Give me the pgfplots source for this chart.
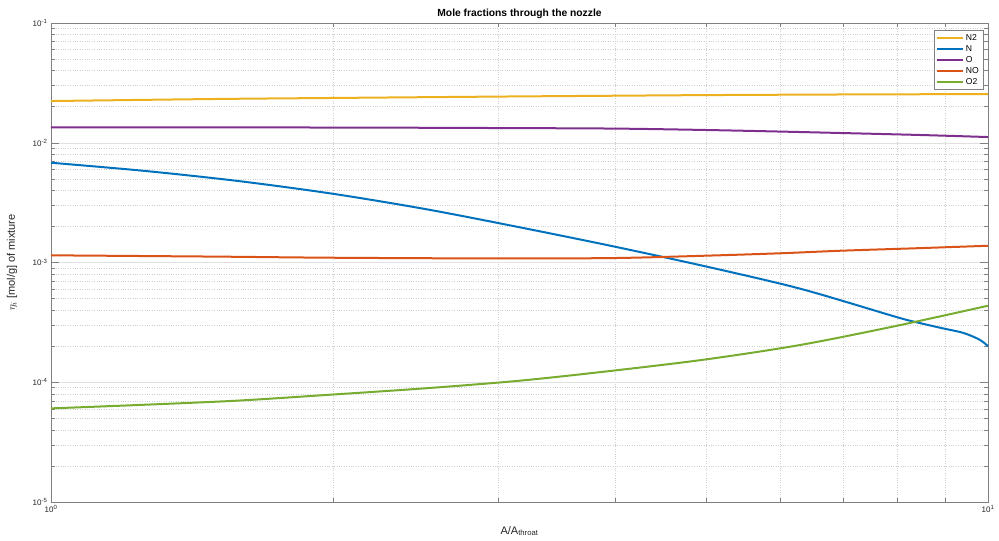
\documentclass[border=0pt]{standalone}
\usepackage{fontspec}
\setmainfont{Liberation Sans}
\usepackage{pgfplots}
\pgfplotsset{compat=1.18}

\definecolor{mlblue}{rgb}{0,0.447,0.741}
\definecolor{mlred}{rgb}{0.85,0.325,0.098}
\definecolor{mlyellow}{rgb}{0.929,0.694,0.125}
\definecolor{mlpurple}{rgb}{0.494,0.184,0.556}
\definecolor{mlgreen}{rgb}{0.466,0.674,0.188}

\begin{document}
\begin{tikzpicture}
\begin{axis}[
  scale only axis, width=937pt, height=479pt,
  xmode=log, ymode=log,
  xmin=1, xmax=10, ymin=1e-5, ymax=1e-1,
  axis line style={black!50, line width=0.5pt},
  tick align=inside,
  major tick length=8pt, minor tick length=4.5pt,
  tick style={black!50, line width=0.5pt},
  xtick={1,10},
  xticklabels={10\textsuperscript{0},10\textsuperscript{1}},
  ytick={1e-5,1e-4,1e-3,1e-2,1e-1},
  yticklabels={10\textsuperscript{-5},10\textsuperscript{-4},10\textsuperscript{-3},10\textsuperscript{-2},10\textsuperscript{-1}},
  ticklabel style={font=\fontsize{8}{9}\selectfont, text=black!85},
  grid=both,
  major grid style={black!12, line width=0.5pt},
  minor grid style={black!19, dotted, line width=0.5pt},
  every axis title shift=0pt,
  title={\textbf{Mole fractions through the nozzle}},
  title style={font=\fontsize{10.3}{12}\selectfont, at={(axis description cs:0.5,1.0188)}, anchor=center},
  xlabel={A/A\textsubscript{throat}},
  ylabel={$\eta_i$ [mol/g] of mixture},
  xlabel style={font=\fontsize{11}{12}\selectfont, text=black!85, at={(axis description cs:0.5,-0.0605)}, anchor=center},
  ylabel style={font=\fontsize{11}{12}\selectfont, text=black!85, at={(axis description cs:-0.0416,0.5)}, anchor=center},
  legend style={at={(1,1)}, anchor=north east, xshift=-5pt, yshift=-7pt,
    font=\fontsize{8.6}{10}\selectfont, draw=black!50, line width=0.5pt,
    inner sep=2pt, row sep=-0.5pt},
  legend cell align=left,
  legend image code/.code={\draw[#1] plot coordinates {(0pt,0pt) (13pt,0pt) (26pt,0pt)};},
  every axis plot/.append style={line width=2pt},
]
% N2
\addplot[mlyellow, smooth] coordinates {(1,0.0223) (1.5,0.0232) (2,0.02366) (3,0.0243) (4,0.0247) (5,0.0250) (7,0.0253) (10,0.0255)};
\addlegendentry{N2}
% N
\addplot[mlblue, smooth] coordinates {(1,6.81e-3) (1.259,5.82e-3) (1.585,4.79e-3) (1.995,3.76e-3) (2.512,2.79e-3) (3.162,1.97e-3) (3.981,1.365e-3) (5.012,9.23e-4) (6.310,6.03e-4) (7.943,3.55e-4) (8.318,3.22e-4) (8.913,2.84e-4) (9.333,2.63e-4) (9.550,2.48e-4) (9.772,2.29e-4) (9.886,2.16e-4) (10,2.0e-4)};
\addlegendentry{N}
% O
\addplot[mlpurple, smooth] coordinates {(1,0.01346) (2,0.0134) (3,0.01327) (4,0.01313) (5,0.01278) (6,0.0124) (7,0.01205) (8.5,0.0116) (10,0.01116)};
\addlegendentry{O}
% NO
\addplot[mlred, smooth] coordinates {(1,1.148e-3) (1.5,1.12e-3) (2,1.096e-3) (3,1.081e-3) (4,1.09e-3) (5,1.14e-3) (6,1.194e-3) (7,1.256e-3) (8.5,1.32e-3) (10,1.38e-3)};
\addlegendentry{NO}
% O2
\addplot[mlgreen, smooth] coordinates {(1,6.05e-5) (1.259,6.49e-5) (1.585,7.03e-5) (1.995,7.89e-5) (2.512,8.91e-5) (3.162,1.030e-4) (3.981,1.250e-4) (5.012,1.556e-4) (6.310,2.051e-4) (7.943,2.931e-4) (10,4.355e-4)};
\addlegendentry{O2}
\coordinate (bl) at (rel axis cs:0,0);
\coordinate (tr) at (rel axis cs:1,1);
\end{axis}
\pgfresetboundingbox
\path[use as bounding box] ([xshift=-51pt,yshift=-39pt]bl) rectangle ([xshift=11pt,yshift=23pt]tr);
\end{tikzpicture}
\end{document}
